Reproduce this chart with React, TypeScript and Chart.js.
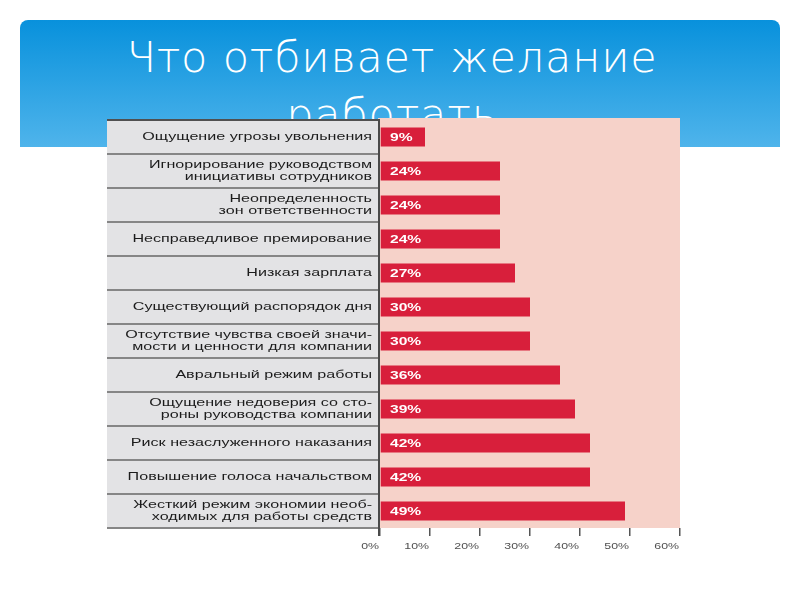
import React, { useEffect, useRef } from "react";
import { Chart, registerables } from "chart.js";

Chart.register(...registerables);

const TITLE_LINE_1 = "Что отбивает желание";
const TITLE_LINE_2 = "работать";

const categories: string[][] = [
  ["Ощущение угрозы увольнения"],
  ["Игнорирование руководством", "инициативы сотрудников"],
  ["Неопределенность", "зон ответственности"],
  ["Несправедливое премирование"],
  ["Низкая зарплата"],
  ["Существующий распорядок дня"],
  ["Отсутствие чувства своей значи-", "мости и ценности для компании"],
  ["Авральный режим работы"],
  ["Ощущение недоверия со сто-", "роны руководства компании"],
  ["Риск незаслуженного наказания"],
  ["Повышение голоса начальством"],
  ["Жесткий режим экономии необ-", "ходимых для работы средств"],
];
const values = [9, 24, 24, 24, 27, 30, 30, 36, 39, 42, 42, 49];
const xTickValues = [0, 10, 20, 30, 40, 50, 60];

const BAR = "#d81f3b";
const PINK = "#f6d2c9";
const GRAY = "#e3e3e5";

function stretchText(
  ctx: CanvasRenderingContext2D,
  text: string,
  x: number,
  y: number,
  align: CanvasTextAlign,
  sx: number
) {
  ctx.save();
  ctx.translate(x, y);
  ctx.scale(sx, 1);
  ctx.textAlign = align;
  ctx.textBaseline = "middle";
  ctx.fillText(text, 0, 0);
  ctx.restore();
}

const panelPlugin = {
  id: "panel",
  beforeDraw(chart: any) {
    const { ctx, chartArea, scales } = chart;
    const y = scales.y;
    const half = (y.getPixelForValue(1) - y.getPixelForValue(0)) / 2;
    const top = y.getPixelForValue(0) - half;
    const bottom = y.getPixelForValue(categories.length - 1) + half;
    const labelLeft = 107;
    ctx.save();
    ctx.fillStyle = PINK;
    ctx.fillRect(chartArea.left - 2, top - 2, chartArea.right - chartArea.left + 2, bottom - top + 2);
    ctx.fillStyle = GRAY;
    ctx.fillRect(labelLeft, top, chartArea.left - 2 - labelLeft, bottom - top);
    for (let i = 0; i <= categories.length; i++) {
      const yy = i === 0 ? top : y.getPixelForValue(i - 1) + half;
      ctx.fillStyle = i === 0 ? "#505050" : "#868686";
      ctx.fillRect(labelLeft, Math.round(yy) - 1, chartArea.left - 2 - labelLeft, 2);
    }
    ctx.restore();
  },
  afterDraw(chart: any) {
    const { ctx, chartArea, scales } = chart;
    const y = scales.y;
    const x = scales.x;
    const half = (y.getPixelForValue(1) - y.getPixelForValue(0)) / 2;
    const top = y.getPixelForValue(0) - half;
    ctx.save();
    ctx.fillStyle = "#4a4a4a";
    ctx.fillRect(chartArea.left - 2, top - 1, 2, chartArea.bottom + 8 - top + 1);
    ctx.fillStyle = "#1c1c1c";
    ctx.font = "11.5px 'Liberation Sans', Arial, sans-serif";
    categories.forEach((lines, i) => {
      const cy = y.getPixelForValue(i);
      const n = lines.length;
      lines.forEach((line, j) => {
        const ly = cy + (j - (n - 1) / 2) * 12;
        stretchText(ctx, line, chartArea.left - 8, ly, "right", 1.4);
      });
    });
    ctx.fillStyle = "#ffffff";
    ctx.font = "bold 11px 'Liberation Sans', Arial, sans-serif";
    values.forEach((v, i) => {
      stretchText(ctx, v + "%", chartArea.left + 10, y.getPixelForValue(i) + 0.5, "left", 1.42);
    });
    ctx.fillStyle = "#505050";
    ctx.font = "9.5px 'Liberation Sans', Arial, sans-serif";
    xTickValues.forEach((t) => {
      stretchText(ctx, t + "%", x.getPixelForValue(t) - 1, chartArea.bottom + 18.5, "right", 1.3);
    });
    ctx.restore();
  },
};

export default function App() {
  const canvasRef = useRef<HTMLCanvasElement | null>(null);

  useEffect(() => {
    if (!canvasRef.current) return;
    const chart = new Chart(canvasRef.current, {
      type: "bar",
      data: {
        labels: categories.map((c) => c.join(" ")),
        datasets: [
          {
            data: values,
            backgroundColor: BAR,
            borderWidth: 0,
            barPercentage: 0.56,
            categoryPercentage: 1,
          },
        ],
      },
      options: {
        indexAxis: "y",
        responsive: false,
        animation: false,
        events: [],
        layout: { padding: { left: 107, right: 120, top: 120, bottom: 32 } },
        plugins: {
          legend: { display: false },
          tooltip: { enabled: false },
          title: { display: false },
        },
        scales: {
          x: {
            type: "linear",
            min: 0,
            max: 60,
            ticks: { stepSize: 10, display: false },
            grid: {
              drawOnChartArea: false,
              drawTicks: true,
              tickLength: 8,
              color: "#555555",
              lineWidth: 1.5,
            },
            border: { display: false },
            afterFit: (s: any) => {
              s.height = 40;
            },
          },
          y: {
            type: "category",
            offset: true,
            ticks: { display: false },
            grid: { display: false },
            border: { display: false },
            afterFit: (s: any) => {
              s.width = 273;
            },
          },
        },
      },
      plugins: [panelPlugin],
    });
    return () => chart.destroy();
  }, []);

  return (
    <div
      style={{
        position: "fixed",
        left: 0,
        top: 0,
        width: 800,
        height: 600,
        background: "#ffffff",
        overflow: "hidden",
      }}
    >
      <div
        style={{
          position: "absolute",
          left: 20,
          top: 20,
          width: 760,
          height: 127,
          borderRadius: "8px 8px 0 0",
          background: "linear-gradient(to bottom, #0891dc, #4fb4eb)",
        }}
      />
      <div
        style={{
          position: "absolute",
          left: 12,
          top: 29,
          width: 760,
          textAlign: "center",
          color: "#ffffff",
          fontFamily: "'DejaVu Sans', sans-serif",
          fontWeight: 200,
          fontSize: 43,
          letterSpacing: "0.8px",
          lineHeight: "57px",
        }}
      >
        <div>{TITLE_LINE_1}</div>
        <div>{TITLE_LINE_2}</div>
      </div>
      <canvas
        ref={canvasRef}
        width={800}
        height={600}
        style={{ position: "absolute", left: 0, top: 0, width: 800, height: 600 }}
      />
    </div>
  );
}
